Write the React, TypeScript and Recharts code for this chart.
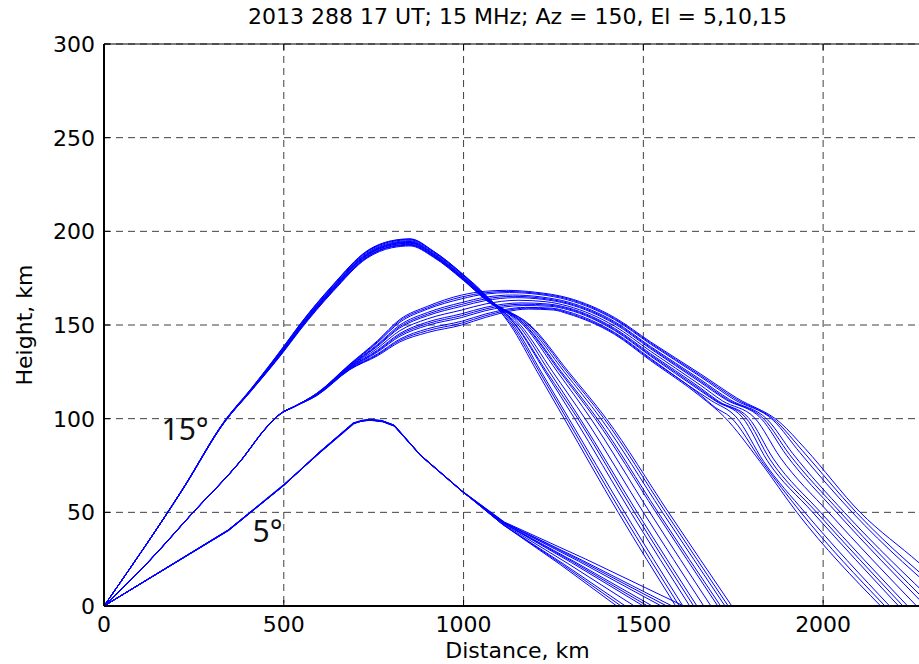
import { CartesianGrid, Line, LineChart, ReferenceDot, ReferenceLine, XAxis, YAxis } from 'recharts';

const CHART_WIDTH = 941;
const CHART_HEIGHT = 664;
const PLOT_LEFT = 104;
const PLOT_TOP = 44;
const PLOT_BOTTOM = 606;
const TICK_LEN = 6;
const RAY_COLOR = '#0000ff';
const GRID_STROKE = '#404040';
const FONT = '"DejaVu Sans", Arial, sans-serif';
const NOTE_FONT = '"Noto Sans", "Open Sans", sans-serif';

const TITLE = '2013 288 17 UT; 15 MHz; Az = 150, El = 5,10,15';
const X_LABEL = 'Distance, km';
const Y_LABEL = 'Height, km';

const distanceTicks = [0, 500, 1000, 1500, 2000];
const heightTicks = [0, 50, 100, 150, 200, 250, 300];

// elevation labels, baseline-left corner in km
const notes = [
	{ label: '15°', d: 160, h: 88.6 },
	{ label: '5°', d: 413, h: 34.2 },
];

type Ray = [number, number][]; // [distance km, height km]

const el5Rays: Ray[] = [
	[[0, 0], [345, 40.6], [498, 64.2], [601, 82.1], [694, 97.4], [716, 98.8], [738, 99.4], [772, 98.9], [806, 96.4], [880, 80.6], [994, 61.6], [1108, 43.6], [1270, 22], [1426, 0]],
	[[0, 0], [346, 40.5], [499, 64.3], [601, 82.2], [694, 97.5], [717, 98.8], [740, 99.3], [773, 98.8], [807, 96.3], [881, 80.5], [995, 61.5], [1109, 43.5], [1275, 22.1], [1438, 0]],
	[[0, 0], [346, 40.4], [499, 64.4], [600, 82.3], [692, 97.6], [718, 98.9], [742, 99.2], [774, 98.6], [808, 96.2], [882, 80.2], [996, 61.2], [1110, 43.4], [1280, 22.2], [1450, 0]],
	[[0, 0], [345, 40.5], [498, 64.6], [602, 82.0], [695, 97.2], [717, 99.0], [740, 99.6], [771, 99.1], [804, 96.8], [878, 80.9], [993, 61.9], [1110, 43.8], [1290, 22.7], [1475, 0]],
	[[0, 0], [347, 40.3], [500, 64.3], [601, 82.4], [693, 97.5], [719, 98.8], [744, 99.3], [776, 98.4], [810, 95.9], [883, 79.9], [997, 61.0], [1112, 44.0], [1300, 23.2], [1500, 0]],
	[[0, 0], [346, 40.4], [499, 64.4], [600, 82.1], [693, 97.4], [718, 98.9], [742, 99.4], [775, 98.6], [808, 96.1], [882, 80.0], [996, 61.1], [1112, 44.1], [1305, 23.4], [1512, 0]],
	[[0, 0], [346, 40.6], [499, 64.5], [599, 82.2], [694, 97.8], [716, 99.1], [739, 99.5], [773, 98.9], [806, 96.6], [881, 80.4], [995, 61.4], [1112, 44.2], [1310, 23.5], [1525, 0]],
	[[0, 0], [345, 40.4], [498, 64.1], [600, 81.9], [692, 97.3], [717, 98.7], [741, 99.1], [775, 98.3], [807, 96.0], [884, 79.7], [998, 60.8], [1113, 44.4], [1320, 23.9], [1550, 0]],
	[[0, 0], [347, 40.5], [500, 64.3], [601, 82.2], [694, 97.5], [718, 98.8], [741, 99.2], [774, 98.7], [807, 96.4], [880, 80.3], [995, 61.4], [1113, 44.5], [1325, 24.2], [1565, 0]],
	[[0, 0], [347, 40.5], [500, 64.4], [602, 82.1], [695, 97.6], [719, 99.0], [743, 99.4], [776, 98.7], [809, 96.3], [882, 80.1], [996, 61.3], [1113, 44.6], [1330, 24.4], [1580, 0]],
	[[0, 0], [346, 40.3], [499, 64.3], [601, 82.3], [693, 97.4], [716, 98.8], [740, 99.2], [772, 98.8], [805, 96.5], [879, 80.7], [994, 61.7], [1114, 44.8], [1340, 25.0], [1612, 0]],
];

const el10Rays: Ray[] = [
	[[0, 0], [128, 24.5], [248, 50], [378, 77], [455, 96], [490, 102.5], [530, 106.5], [592, 113.6], [684, 129.2], [760, 141.5], [823, 153], [900, 160], [995, 166], [1060, 168], [1120, 168.5], [1200, 167.5], [1290, 164.5], [1420, 154], [1520, 141], [1658, 124], [1760, 111], [1880, 98], [1950, 84], [2103, 50], [2267, 23], [2400, 0]],
	[[0, 0], [128, 24.5], [248, 50], [378, 77], [455, 96], [490, 102.5], [530, 106.5], [592, 113.5], [684, 128.9], [760, 141], [823, 152.3], [900, 159.2], [995, 165], [1060, 167.2], [1124, 167.9], [1205, 166.9], [1290, 164], [1420, 153.4], [1520, 140.4], [1658, 123.2], [1755, 110.8], [1870, 98.5], [1942, 83], [2092, 50], [2380, 0]],
	[[0, 0], [128, 24.6], [248, 50.1], [378, 77.1], [455, 96.1], [490, 102.6], [530, 106.6], [592, 113.4], [684, 128.7], [760, 140.5], [823, 151.5], [900, 158.5], [995, 164], [1060, 166.5], [1128, 167.3], [1210, 166.3], [1290, 163.4], [1420, 152.9], [1520, 139.8], [1658, 122.5], [1750, 110.5], [1862, 99], [1935, 82], [2081, 50], [2360, 0]],
	[[0, 0], [128, 24.4], [248, 49.9], [378, 76.9], [455, 95.9], [490, 102.4], [530, 106.4], [592, 113.3], [684, 128.4], [760, 139.5], [823, 150], [900, 156.7], [995, 162], [1060, 164.8], [1136, 166], [1215, 165], [1290, 162.3], [1420, 151.8], [1520, 138.5], [1658, 121], [1740, 110.2], [1845, 99.5], [1915, 81.5], [2059, 50], [2320, 0]],
	[[0, 0], [128, 24.5], [248, 50], [378, 77], [455, 96], [490, 102.5], [530, 106.5], [592, 113.2], [684, 128.2], [760, 139], [823, 149.2], [900, 155.8], [995, 161], [1060, 163.9], [1140, 165.3], [1218, 164.3], [1290, 161.7], [1420, 151.2], [1520, 137.9], [1658, 120.2], [1734, 110.2], [1836, 99.7], [1906, 81], [2048, 50], [2300, 0]],
	[[0, 0], [128, 24.5], [248, 50], [378, 77], [455, 96], [490, 102.5], [530, 106.5], [592, 113.1], [684, 127.9], [760, 138.5], [823, 148.5], [900, 155], [995, 160], [1060, 163], [1144, 164.6], [1220, 163.7], [1290, 161.2], [1420, 150.6], [1520, 137.3], [1658, 119.5], [1728, 110.3], [1828, 100], [1898, 80.5], [2037, 50], [2285, 0]],
	[[0, 0], [128, 24.6], [248, 50.1], [378, 77.1], [455, 96.1], [490, 102.6], [530, 106.6], [592, 113], [684, 127.7], [760, 137.5], [823, 147], [900, 153.3], [995, 158], [1060, 161.2], [1152, 163.2], [1230, 162.4], [1290, 160.1], [1420, 149.4], [1520, 136], [1658, 118], [1720, 109.5], [1810, 100.3], [1880, 79.5], [2015, 50], [2260, 0]],
	[[0, 0], [128, 24.4], [248, 49.9], [378, 76.9], [455, 95.9], [490, 102.4], [530, 106.4], [592, 112.9], [684, 127.4], [760, 136.5], [823, 145.5], [900, 151.6], [995, 156], [1060, 159.4], [1160, 161.8], [1235, 161.2], [1290, 159.2], [1420, 148.2], [1520, 134.7], [1658, 116.5], [1710, 109.2], [1792, 100.6], [1862, 78.5], [1993, 50], [2235, 0]],
	[[0, 0], [128, 24.5], [248, 50], [378, 77], [455, 96], [490, 102.5], [530, 106.5], [592, 112.8], [684, 127.2], [760, 136], [823, 144.8], [900, 150.7], [995, 155], [1060, 158.5], [1163, 161.1], [1238, 160.6], [1290, 158.7], [1420, 147.6], [1520, 134], [1658, 115.7], [1705, 109.3], [1784, 100.7], [1853, 78], [1982, 50], [2222, 0]],
	[[0, 0], [128, 24.5], [248, 50], [378, 77], [455, 96], [490, 102.5], [530, 106.5], [592, 112.7], [684, 126.9], [760, 135.5], [823, 144], [900, 149.8], [995, 154], [1060, 157.6], [1166, 160.4], [1240, 160], [1290, 158.2], [1420, 147.1], [1520, 133.4], [1658, 115], [1700, 109.5], [1775, 100.8], [1845, 77.5], [1971, 50], [2210, 0]],
	[[0, 0], [128, 24.6], [248, 50.1], [378, 77.1], [455, 96.1], [490, 102.6], [530, 106.6], [592, 112.6], [684, 126.7], [760, 134.5], [823, 142.5], [900, 148], [995, 152], [1060, 155.8], [1172, 159.4], [1245, 159], [1290, 157.1], [1420, 146], [1520, 132.2], [1658, 113.5], [1690, 109.5], [1758, 100.9], [1835, 77], [1949, 50], [2185, 0]],
	[[0, 0], [128, 24.5], [248, 50], [378, 77], [455, 96], [490, 102.5], [530, 106.5], [592, 112.5], [684, 126.4], [760, 134], [823, 141.8], [900, 147], [995, 151], [1060, 154.9], [1176, 159], [1248, 158.5], [1290, 156.5], [1420, 145.5], [1520, 131.6], [1658, 112.8], [1700, 106], [1742, 100.9], [1830, 77], [1938, 50], [2172, 0]],
	[[0, 0], [128, 24.4], [248, 49.9], [378, 76.9], [455, 95.9], [490, 102.4], [530, 106.4], [592, 112.3], [684, 126.2], [760, 133.5], [823, 141], [900, 146], [995, 150], [1060, 154], [1180, 158.5], [1250, 158], [1290, 156], [1420, 145], [1520, 131], [1658, 112], [1725, 101], [1825, 77], [1927, 50], [2160, 0]],
];

const el15Rays: Ray[] = [
	[[0, 0], [221, 63.1], [337, 99.3], [406, 115.3], [499, 138.4], [545, 150.4], [637, 171.5], [731, 189.5], [800, 195], [851, 196], [916, 189.5], [999, 177], [1064, 165.5], [1130, 150], [1205, 125], [1280, 100], [1430, 50], [1590, 0]],
	[[0, 0], [221, 63], [337, 99.1], [406, 114.7], [499, 137], [545, 148.9], [637, 169.9], [731, 187.8], [800, 193.3], [851, 194.3], [916, 187.9], [999, 175.5], [1064, 164.4], [1134, 150], [1211, 125], [1287, 100], [1439, 50], [1600, 0]],
	[[0, 0], [221, 62.9], [337, 98.8], [406, 114.8], [499, 137.2], [545, 149.1], [637, 170.1], [731, 188], [800, 193.6], [851, 194.6], [916, 188.1], [999, 175.6], [1064, 164.2], [1139, 150], [1216, 125], [1293, 100], [1448, 50], [1610, 0]],
	[[0, 0], [221, 63], [337, 99], [406, 115], [499, 138], [545, 150], [637, 171], [731, 189], [800, 194.5], [851, 195.5], [916, 189], [999, 176.5], [1064, 165], [1144, 150], [1227, 125], [1309, 100], [1465, 50], [1629, 0]],
	[[0, 0], [221, 63.1], [337, 99.1], [406, 115.1], [499, 138.2], [545, 150.2], [637, 171.3], [731, 189.3], [800, 194.8], [851, 195.8], [916, 189.3], [999, 176.8], [1064, 165.3], [1146, 150], [1231, 125], [1318, 100], [1475, 50], [1640, 0]],
	[[0, 0], [221, 62.8], [337, 98.6], [406, 114.4], [499, 136.5], [545, 148.3], [637, 169.2], [731, 187], [800, 192.6], [851, 193.6], [916, 187.2], [999, 174.8], [1064, 163.6], [1152, 150], [1239, 125], [1324, 100], [1483, 50], [1649, 0]],
	[[0, 0], [221, 63.1], [337, 99.1], [406, 114.9], [499, 137.6], [545, 149.5], [637, 170.5], [731, 188.5], [800, 194], [851, 195], [916, 188.6], [999, 176.2], [1064, 164.8], [1158, 150], [1248, 125], [1338, 100], [1500, 50], [1668, 0]],
	[[0, 0], [221, 62.9], [337, 98.7], [406, 114.2], [499, 135.9], [545, 147.6], [637, 168.3], [731, 186], [800, 191.7], [851, 192.6], [916, 186.5], [999, 174.2], [1064, 163.2], [1166, 150], [1261, 125], [1354, 100], [1518, 50], [1688, 0]],
	[[0, 0], [221, 62.9], [337, 98.7], [406, 114.3], [499, 136], [545, 147.8], [637, 168.5], [731, 186.2], [800, 191.9], [851, 192.9], [916, 186.7], [999, 174.4], [1064, 163.4], [1172, 150], [1272, 125], [1372, 100], [1541, 50], [1715, 0]],
	[[0, 0], [221, 63], [337, 98.9], [406, 114.6], [499, 136.8], [545, 148.7], [637, 169.6], [731, 187.5], [800, 193.1], [851, 194.1], [916, 187.8], [999, 175.4], [1064, 164.3], [1170, 150], [1268, 125], [1366, 100], [1535, 50], [1707, 0]],
	[[0, 0], [221, 63], [337, 98.9], [406, 114.5], [499, 136.6], [545, 148.5], [637, 169.4], [731, 187.2], [800, 192.8], [851, 193.8], [916, 187.5], [999, 175.1], [1064, 164], [1182, 150], [1287, 125], [1391, 100], [1562, 50], [1736, 0]],
	[[0, 0], [221, 63.1], [337, 98.8], [406, 114.3], [499, 136.2], [545, 148], [637, 168.8], [731, 186.5], [800, 192.1], [851, 193.1], [916, 187], [999, 174.6], [1064, 163.7], [1177, 150], [1280, 125], [1382, 100], [1553, 50], [1727, 0]],
	[[0, 0], [221, 62.8], [337, 98.6], [406, 114], [499, 135.6], [545, 147.2], [637, 167.9], [731, 185.6], [800, 191.2], [851, 192.2], [916, 186.2], [999, 173.9], [1064, 163], [1185, 150], [1292, 125], [1397, 100], [1570, 50], [1746, 0]],
];

const toPoints = (ray: Ray) => ray.map(([d, h]) => ({ d, h }));

// 5 deg rays have sharp bends, keep them straight-segmented
const series = [
	...el5Rays.map((ray) => ({ points: toPoints(ray), curve: 'linear' as const })),
	...el10Rays.map((ray) => ({ points: toPoints(ray), curve: 'monotoneX' as const })),
	...el15Rays.map((ray) => ({ points: toPoints(ray), curve: 'monotoneX' as const })),
];

// matlab style: ticks point into the box, on top as well as bottom
function DistanceTick({ x, payload }: any) {
	return (
		<g>
			<line x1={x} y1={PLOT_BOTTOM} x2={x} y2={PLOT_BOTTOM - TICK_LEN} stroke="#000" />
			<line x1={x} y1={PLOT_TOP} x2={x} y2={PLOT_TOP + TICK_LEN} stroke="#000" />
			<text x={x} y={PLOT_BOTTOM + 26} textAnchor="middle" fontSize={22} fontFamily={FONT} fill="#000">
				{payload.value}
			</text>
		</g>
	);
}

function HeightTick({ y, payload }: any) {
	return (
		<g>
			<line x1={PLOT_LEFT} y1={y} x2={PLOT_LEFT + TICK_LEN} y2={y} stroke="#000" />
			<text x={PLOT_LEFT - 9} y={y + 8} textAnchor="end" fontSize={22} fontFamily={FONT} fill="#000">
				{payload.value}
			</text>
		</g>
	);
}

function NoteText({ viewBox, text }: any) {
	return (
		<text x={viewBox.x} y={viewBox.y} fontSize={30} fontFamily={NOTE_FONT} fill="#111">
			{text}
		</text>
	);
}

const textStyle = {
	position: 'absolute' as const,
	fontFamily: FONT,
	fontSize: 22,
	lineHeight: '22px',
	color: '#000',
	whiteSpace: 'nowrap' as const,
};

export default function App() {
	return (
		<div
			style={{
				position: 'absolute',
				left: 0,
				top: 0,
				width: 919,
				height: 664,
				overflow: 'hidden',
				background: '#fff',
			}}
		>
			<div style={{ ...textStyle, left: PLOT_LEFT, width: 827, top: 6, textAlign: 'center' }}>{TITLE}</div>
			<LineChart width={CHART_WIDTH} height={CHART_HEIGHT} margin={{ top: PLOT_TOP, right: 10, bottom: 0, left: 44 }}>
				<CartesianGrid stroke={GRID_STROKE} strokeDasharray="7 5" />
				<XAxis
					type="number"
					dataKey="d"
					domain={[0, 2300]}
					ticks={distanceTicks}
					allowDataOverflow
					tick={<DistanceTick />}
					tickLine={false}
					axisLine={{ stroke: '#000', strokeWidth: 2 }}
					height={58}
				/>
				<YAxis
					type="number"
					domain={[0, 300]}
					ticks={heightTicks}
					allowDataOverflow
					tick={<HeightTick />}
					tickLine={false}
					axisLine={{ stroke: '#000', strokeWidth: 2 }}
					width={60}
				/>
				<ReferenceLine y={300} stroke="#000" strokeWidth={1} />
				{series.map((s, i) => (
					<Line
						key={i}
						data={s.points}
						dataKey="h"
						type={s.curve}
						stroke={RAY_COLOR}
						strokeWidth={1}
						dot={false}
						activeDot={false}
						isAnimationActive={false}
					/>
				))}
				{notes.map((note) => (
					<ReferenceDot
						key={note.label}
						x={note.d}
						y={note.h}
						r={0}
						fill="none"
						stroke="none"
						label={<NoteText text={note.label} />}
					/>
				))}
			</LineChart>
			<div style={{ ...textStyle, left: PLOT_LEFT, width: 827, top: 640, textAlign: 'center' }}>{X_LABEL}</div>
			<div
				style={{
					...textStyle,
					left: 25 - 100,
					top: 325 - 11,
					width: 200,
					height: 22,
					textAlign: 'center',
					transform: 'rotate(-90deg)',
				}}
			>
				{Y_LABEL}
			</div>
		</div>
	);
}
